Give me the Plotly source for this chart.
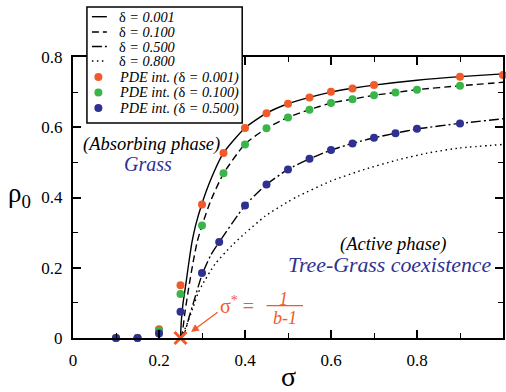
import plotly.graph_objects as go

# ---- data ----
sig_d001 = [0.25, 0.252, 0.256, 0.262, 0.27, 0.277, 0.285, 0.3, 0.32, 0.35, 0.4, 0.45, 0.5, 0.55, 0.6, 0.65, 0.7, 0.8, 0.9, 1.0]
rho_d001 = [0.0, 0.05, 0.10, 0.15, 0.22, 0.275, 0.32, 0.383, 0.45, 0.527, 0.598, 0.64, 0.667, 0.685, 0.70, 0.711, 0.72, 0.734, 0.744, 0.752]

sig_d010 = [0.25, 0.254, 0.26, 0.27, 0.28, 0.289, 0.3, 0.32, 0.35, 0.4, 0.45, 0.5, 0.55, 0.6, 0.65, 0.7, 0.75, 0.8, 0.9, 1.0]
rho_d010 = [0.0, 0.014, 0.07, 0.15, 0.22, 0.275, 0.32, 0.39, 0.468, 0.552, 0.597, 0.628, 0.65, 0.669, 0.68, 0.691, 0.699, 0.707, 0.718, 0.728]

sig_d050 = [0.25, 0.258, 0.27, 0.28, 0.3, 0.32, 0.34, 0.4, 0.45, 0.5, 0.55, 0.6, 0.65, 0.7, 0.75, 0.8, 0.9, 1.0]
rho_d050 = [0.0, 0.01, 0.06, 0.10, 0.18, 0.235, 0.273, 0.377, 0.437, 0.48, 0.51, 0.535, 0.554, 0.57, 0.583, 0.595, 0.611, 0.624]

sig_d080 = [0.25, 0.26, 0.27, 0.28, 0.29, 0.3, 0.33, 0.37, 0.4, 0.447, 0.5, 0.524, 0.6, 0.678, 0.755, 0.831, 0.9, 1.0]
rho_d080 = [0.0, 0.025, 0.055, 0.09, 0.125, 0.15, 0.21, 0.264, 0.298, 0.347, 0.388, 0.404, 0.447, 0.48, 0.507, 0.528, 0.541, 0.551]

pde_sig_001 = [0.1, 0.15, 0.2, 0.25, 0.3, 0.35, 0.4, 0.45, 0.5, 0.55, 0.6, 0.65, 0.7, 0.9, 1.0]
pde_rho_001 = [0.0, 0.0, 0.025, 0.15, 0.38, 0.527, 0.598, 0.64, 0.667, 0.685, 0.701, 0.71, 0.72, 0.744, 0.749]

pde_sig_010 = [0.1, 0.15, 0.2, 0.25, 0.3, 0.35, 0.4, 0.45, 0.5, 0.55, 0.6, 0.65, 0.7, 0.75, 0.8, 0.9]
pde_rho_010 = [0.0, 0.0, 0.021, 0.125, 0.32, 0.469, 0.551, 0.597, 0.628, 0.65, 0.669, 0.68, 0.691, 0.699, 0.707, 0.718]

pde_sig_050 = [0.1, 0.15, 0.2, 0.25, 0.3, 0.34, 0.4, 0.45, 0.5, 0.55, 0.6, 0.65, 0.7, 0.75, 0.8, 0.9]
pde_rho_050 = [0.0, 0.0, 0.013, 0.075, 0.185, 0.273, 0.377, 0.437, 0.48, 0.51, 0.535, 0.554, 0.57, 0.583, 0.596, 0.611]

sigma_c = 0.25
x_ticks = [0, 0.2, 0.4, 0.6, 0.8]
x_tick_text = ["0", "0.2", "0.4", "0.6", "0.8"]
y_ticks = [0, 0.2, 0.4, 0.6, 0.8]
y_tick_text = ["0", "0.2", "0.4", "0.6", "0.8"]

ORANGE = "#f15a29"
GREEN = "#39b54a"
BLUE = "#2e3192"
SERIF = "Liberation Serif"

# layout geometry (pixels)
W, H = 506, 392
ML, MR, MT, MB = 73, 1, 57, 54
PW, PH = W - ML - MR, H - MT - MB


def px(xp):
    return (xp - ML) / PW


def py(yp):
    return (H - MB - yp) / PH


fig = go.Figure()

line_specs = [
    (sig_d001, rho_d001, "solid", "δ <i>= 0.001</i>"),
    (sig_d010, rho_d010, "7px,4px", "δ <i>= 0.100</i>"),
    (sig_d050, rho_d050, "10px,3px,2px,3px", "δ <i>= 0.500</i>"),
    (sig_d080, rho_d080, "1.5px,3.5px", "δ <i>= 0.800</i>"),
]
for xs, ys, dash, name in line_specs:
    fig.add_trace(go.Scatter(x=xs, y=ys, mode="lines", name=name, showlegend=False,
                             line=dict(color="black", width=1.4, dash=dash, shape="spline", smoothing=0.6)))

pde_specs = [
    (pde_sig_001, pde_rho_001, ORANGE, "<i>PDE int. (</i>δ<i> = 0.001)</i>"),
    (pde_sig_010, pde_rho_010, GREEN, "<i>PDE int. (</i>δ<i> = 0.100)</i>"),
    (pde_sig_050, pde_rho_050, BLUE, "<i>PDE int. (</i>δ<i> = 0.500)</i>"),
]
for xs, ys, col, name in pde_specs:
    fig.add_trace(go.Scatter(x=xs, y=ys, mode="markers", name=name, cliponaxis=False, showlegend=False,
                             marker=dict(color=col, size=8, line=dict(width=0))))

# critical point marker
fig.add_trace(go.Scatter(x=[sigma_c], y=[0], mode="markers", showlegend=False, cliponaxis=False,
                         marker=dict(symbol="x-thin", size=12, line=dict(color=ORANGE, width=3))))

axis_common = dict(showline=True, linecolor="black", linewidth=2, mirror="allticks",
                   ticks="inside", ticklen=8, tickwidth=1.5, tickcolor="black",
                   showgrid=False, zeroline=False,
                   tickfont=dict(family=SERIF, size=17, color="black"),
                   minor=dict(ticks="inside", ticklen=5, tickwidth=1.2, tickcolor="black", dtick=0.1))

fig.update_xaxes(range=[0, 1], tickvals=x_ticks, ticktext=x_tick_text, ticklabelstandoff=6, **axis_common)
fig.update_yaxes(range=[0, 0.8], tickvals=y_ticks, ticktext=y_tick_text, ticklabelstandoff=5, **axis_common)

annos = [
    dict(x=px(6), y=py(195), xref="paper", yref="paper", xanchor="left", yanchor="middle",
         text="ρ<sub>0</sub>", showarrow=False, font=dict(family=SERIF, size=27, color="black")),
    dict(x=px(289), y=py(359), xref="paper", yref="paper", xanchor="center", yanchor="top",
         text="σ", showarrow=False, font=dict(family=SERIF, size=28, color="black")),
    dict(x=0.183, y=0.551, text="<i>(Absorbing phase)</i>", showarrow=False,
         font=dict(family=SERIF, size=18.5, color="black")),
    dict(x=0.175, y=0.496, text="<i>Grass</i>", showarrow=False,
         font=dict(family=SERIF, size=20, color=BLUE)),
    dict(x=0.745, y=0.265, text="<i>(Active phase)</i>", showarrow=False,
         font=dict(family=SERIF, size=18.5, color="black")),
    dict(x=0.738, y=0.208, text="<i>Tree-Grass coexistence</i>", showarrow=False,
         font=dict(family=SERIF, size=21.8, color=BLUE)),
    dict(x=0.425, y=0.094, xanchor="right", text="σ<sup>*</sup> =", showarrow=False,
         font=dict(family=SERIF, size=20, color=ORANGE)),
    dict(x=0.489, y=0.112, text="<i>1</i>", showarrow=False,
         font=dict(family=SERIF, size=18, color=ORANGE)),
    dict(x=0.493, y=0.058, text="<i>b-1</i>", showarrow=False,
         font=dict(family=SERIF, size=18, color=ORANGE)),
    dict(x=0.2746, y=0.017, ax=28, ay=-21, text="", showarrow=True, arrowhead=2,
         arrowsize=1.2, arrowwidth=1.3, arrowcolor=ORANGE),
]

shapes = [
    dict(type="line", x0=0.45, x1=0.535, y0=0.092, y1=0.092, line=dict(color=ORANGE, width=1.3)),
    # custom legend box
    dict(type="rect", xref="paper", yref="paper", x0=px(87), x1=px(243), y0=py(123), y1=py(7),
         fillcolor="white", line=dict(color="black", width=1.5), layer="above"),
]

legend_rows = [16.7, 32, 46.5, 61, 77, 92.5, 108]
for (xs, ys, dash, name), yr in zip(line_specs, legend_rows[:4]):
    shapes.append(dict(type="line", xref="paper", yref="paper", x0=px(92), x1=px(107),
                       y0=py(yr), y1=py(yr), line=dict(color="black", width=1.4, dash=dash), layer="above"))
    annos.append(dict(x=px(118), y=py(yr), xref="paper", yref="paper", xanchor="left", yanchor="middle",
                      text=name, showarrow=False, borderpad=0,
                      font=dict(family=SERIF, size=14.3, color="black")))
for (xs, ys, col, name), yr in zip(pde_specs, legend_rows[4:]):
    shapes.append(dict(type="circle", xref="paper", yref="paper", xsizemode="pixel", ysizemode="pixel",
                       xanchor=px(98.5), yanchor=py(yr), x0=-4, x1=4, y0=-4, y1=4,
                       fillcolor=col, line=dict(width=0), layer="above"))
    annos.append(dict(x=px(118), y=py(yr), xref="paper", yref="paper", xanchor="left", yanchor="middle",
                      text=name, showarrow=False, borderpad=0,
                      font=dict(family=SERIF, size=14.3, color="black")))

fig.update_layout(annotations=annos, shapes=shapes)

fig.update_layout(
    width=W, height=H,
    margin=dict(l=ML, r=MR, t=MT, b=MB),
    paper_bgcolor="white", plot_bgcolor="white",
    showlegend=False,
)

fig.write_html("out.html")
